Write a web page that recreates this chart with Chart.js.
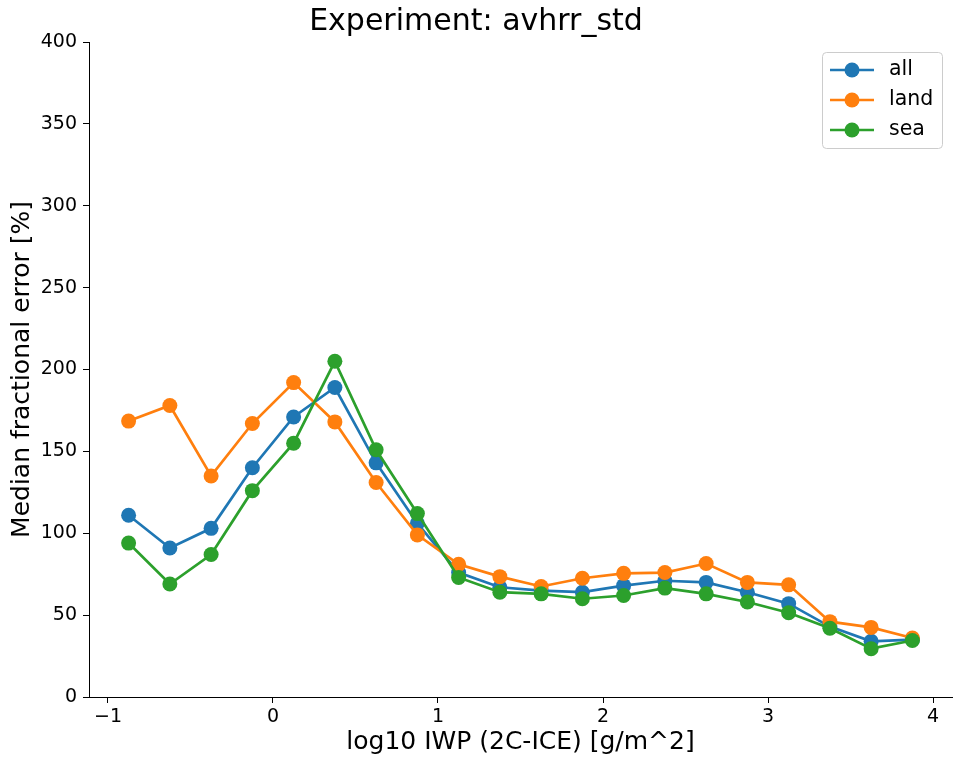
<!DOCTYPE html>
<html>
<head>
<meta charset="utf-8">
<script src="https://cdn.jsdelivr.net/npm/chart.js@4.4.1/dist/chart.umd.min.js"></script>
<style>
  html, body { margin: 0; padding: 0; background: #fff; }
  canvas { display: block; }
</style>
</head>
<body>
<canvas id="chart" width="966" height="766"></canvas>
<script>
// bin centres of log10 IWP
const iwpBins = [-0.875, -0.625, -0.375, -0.125, 0.125, 0.375, 0.625, 0.875, 1.125, 1.375,
                 1.625, 1.875, 2.125, 2.375, 2.625, 2.875, 3.125, 3.375, 3.625, 3.875];
const allErr  = [111, 91, 103, 140, 171, 189, 143, 106, 76, 67, 65, 64, 68, 71, 70, 64, 57, 43, 34, 35];
const landErr = [168.5, 178, 135, 167, 192, 168, 131, 99, 81, 73.5, 67.5, 72.5, 75.5, 76, 81.5, 70, 68.5, 46, 42.5, 36];
const seaErr  = [94, 69, 87, 126, 155, 205, 151, 112, 73, 64, 63, 60, 62, 66.5, 63, 58, 51.5, 42, 29.5, 34.5];
const seriesNames = ['all', 'land', 'sea'];
const xTicks = [-1, 0, 1, 2, 3, 4];

const FONT = "'DejaVu Sans', sans-serif";
const colors = ['#1f77b4', '#ff7f0e', '#2ca02c'];

function toPoints(ys) {
    return ys.map((y, i) => ({ x: iwpBins[i], y }));
}

// matplotlib style legend with line + marker, drawn inside the axes
const innerLegend = {
    id: 'innerLegend',
    afterDatasetsDraw(chart) {
        const ctx = chart.ctx;
        const x0 = 822.5, y0 = 52.5, w = 120, h = 96, r = 4;
        ctx.save();
        ctx.beginPath();
        ctx.moveTo(x0 + r, y0);
        ctx.arcTo(x0 + w, y0, x0 + w, y0 + h, r);
        ctx.arcTo(x0 + w, y0 + h, x0, y0 + h, r);
        ctx.arcTo(x0, y0 + h, x0, y0, r);
        ctx.arcTo(x0, y0, x0 + w, y0, r);
        ctx.closePath();
        ctx.fillStyle = 'rgba(255,255,255,0.8)';
        ctx.fill();
        ctx.strokeStyle = '#cccccc';
        ctx.lineWidth = 1;
        ctx.stroke();

        ctx.font = '20.5px ' + FONT;
        ctx.textBaseline = 'middle';
        ctx.textAlign = 'left';
        seriesNames.forEach((name, i) => {
            const yy = 70 + i * 30;
            ctx.strokeStyle = colors[i];
            ctx.lineWidth = 2.7;
            ctx.beginPath();
            ctx.moveTo(830, yy);
            ctx.lineTo(874, yy);
            ctx.stroke();
            ctx.fillStyle = colors[i];
            ctx.beginPath();
            ctx.arc(852, yy, 7.5, 0, Math.PI * 2);
            ctx.fill();
            ctx.fillStyle = '#000';
            ctx.fillText(name, 889, yy);
        });
        ctx.restore();
    }
};

const datasets = [allErr, landErr, seaErr].map((ys, i) => ({
    label: seriesNames[i],
    data: toPoints(ys),
    borderColor: colors[i],
    backgroundColor: colors[i],
    borderWidth: 2.7,
    pointRadius: 7.5,
    pointHoverRadius: 7.5,
    pointBorderWidth: 0,
    tension: 0,
    order: 3 - i
}));

new Chart(document.getElementById('chart').getContext('2d'), {
    type: 'line',
    data: { datasets },
    options: {
        responsive: false,
        animation: false,
        devicePixelRatio: 1,
        layout: { padding: { left: 0, right: 14, top: 0, bottom: 0 } },
        plugins: {
            legend: { display: false },
            tooltip: { enabled: false },
            title: {
                display: true,
                text: 'Experiment: avhrr_std',
                color: '#000',
                font: { family: FONT, size: 30, weight: 'normal' },
                padding: { top: 4, bottom: 2 }
            }
        },
        scales: {
            x: {
                type: 'linear',
                min: -1.115,
                max: 4.115,
                afterFit(scale) { scale.height = 69; },
                afterBuildTicks(scale) { scale.ticks = xTicks.map(v => ({ value: v })); },
                ticks: {
                    color: '#000',
                    padding: 3,
                    maxRotation: 0,
                    font: { family: FONT, size: 19 },
                    callback: v => String(v).replace('-', '\u2212')
                },
                grid: { drawOnChartArea: false, drawTicks: true, tickLength: 6, color: '#000' },
                border: { display: true, color: '#000', width: 1 },
                title: {
                    display: true,
                    text: 'log10 IWP (2C-ICE) [g/m^2]',
                    color: '#000',
                    font: { family: FONT, size: 25 },
                    padding: { top: 0, bottom: 9 }
                }
            },
            y: {
                min: 0,
                max: 400,
                afterFit(scale) { scale.width = 89; },
                ticks: {
                    stepSize: 50,
                    color: '#000',
                    padding: 6,
                    font: { family: FONT, size: 19 }
                },
                grid: { drawOnChartArea: false, drawTicks: true, tickLength: 6, color: '#000' },
                border: { display: true, color: '#000', width: 1 },
                title: {
                    display: true,
                    text: 'Median fractional error [%]',
                    color: '#000',
                    font: { family: FONT, size: 25 },
                    padding: { top: 7, bottom: 0 }
                }
            }
        }
    },
    plugins: [innerLegend]
});
</script>
</body>
</html>
